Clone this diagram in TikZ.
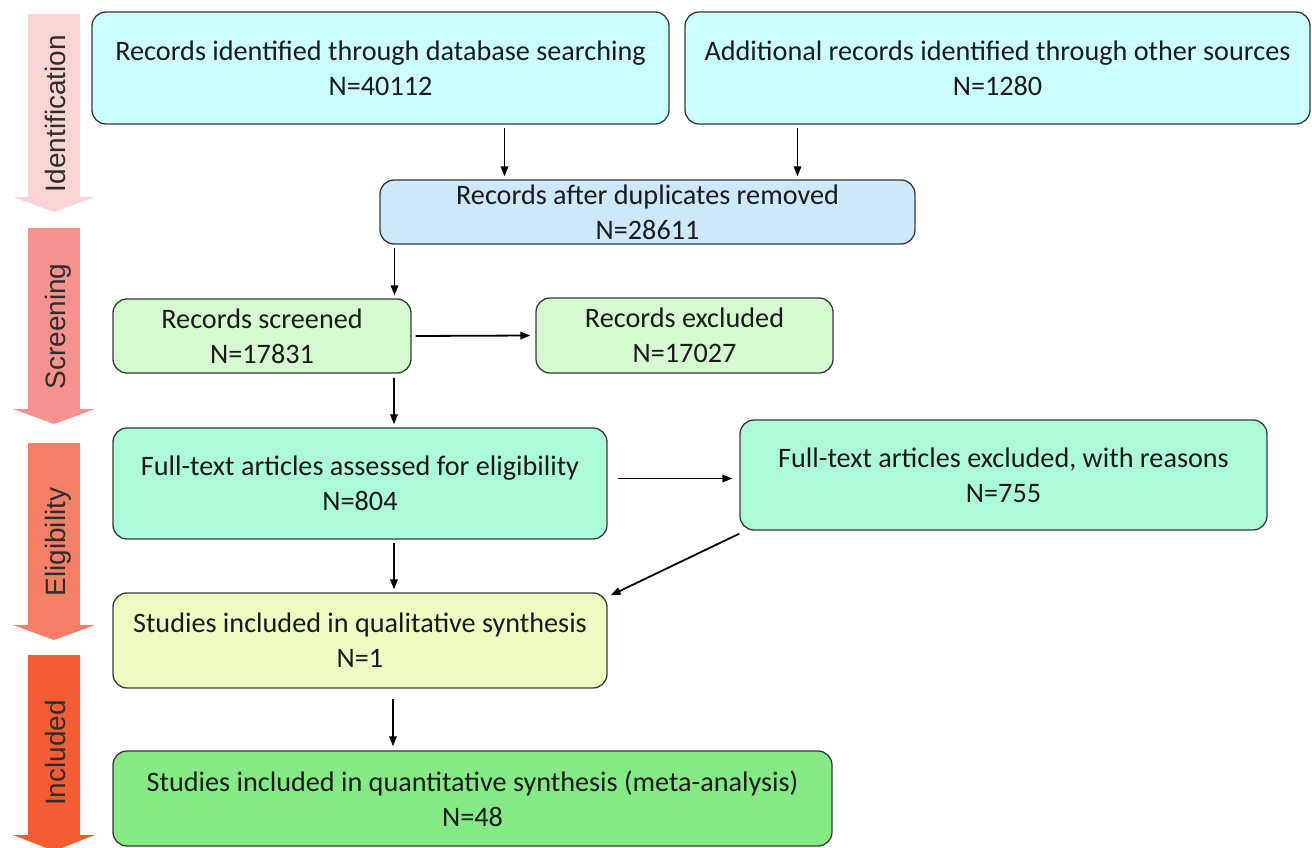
\documentclass[tikz,border=0pt]{standalone}
\usepackage{fontspec}
\setmainfont{Carlito}
\newfontfamily\phasefont{Liberation Sans}
\usepackage{xcolor}
\usetikzlibrary{arrows.meta}
\definecolor{boxline}{HTML}{383838}
\definecolor{boxtext}{HTML}{1A1A1A}
\definecolor{phasetext}{HTML}{2E2E2E}
\definecolor{idcyan}{HTML}{CCFFFF}
\definecolor{dupblue}{HTML}{CCE8FA}
\definecolor{scrgreen}{HTML}{D6FAD0}
\definecolor{fullmint}{HTML}{ADFAD9}
\definecolor{qualyellow}{HTML}{EDFCC2}
\definecolor{inclgreen}{HTML}{85E985}
\definecolor{phaseA}{HTML}{FAD4D4}
\definecolor{phaseB}{HTML}{F5928E}
\definecolor{phaseC}{HTML}{F47F67}
\definecolor{phaseD}{HTML}{F45D33}

\begin{document}
\begin{tikzpicture}[x=1pt,y=-1pt,
  box/.style={draw=boxline,line width=1.3pt,rounded corners=14pt,align=center,
    inner sep=0pt,text=boxtext,font=\fontsize{28.2}{35}\selectfont},
  arr/.style={-{Triangle[length=10pt,width=7.5pt]},line width=1.8pt}]
  \useasboundingbox (0,0) rectangle (1312,848);

  % phase arrows on the left
  \foreach \top/\neck/\tip/\col/\lab [count=\i] in
    {14/197/212/phaseA/Identification, 228/409/424/phaseB/Screening,
     443/625/640/phaseC/Eligibility, 655/835/851/phaseD/Included}{
    \path[fill=\col] (28,\top)--(80,\top)--(80,\neck)--(95,\neck)--(54,\tip)--(13,\neck)--(28,\neck)--cycle;
    \node[rotate=90,anchor=base,text=phasetext,font=\phasefont\fontsize{28}{28}\selectfont]
      (phase\i) at (65,{(\top+\neck)/2+8}) {\lab};
  }

  \node[box,fill=idcyan,minimum width=577pt,minimum height=112pt] (db) at (380.5,68)
    {Records identified through database searching\\N=40112};
  \node[box,fill=idcyan,minimum width=625pt,minimum height=112pt] (other) at (997.5,68)
    {Additional records identified through other sources\\N=1280};
  \node[box,fill=dupblue,minimum width=535pt,minimum height=64pt] (dup) at (647.5,212)
    {Records after duplicates removed\\N=28611};
  \node[box,fill=scrgreen,minimum width=298pt,minimum height=74pt] (scr) at (262,336)
    {Records screened\\N=17831};
  \node[box,fill=scrgreen,minimum width=297pt,minimum height=75pt] (excl) at (684.5,335.5)
    {Records excluded\\N=17027};
  \node[box,fill=fullmint,minimum width=494pt,minimum height=111pt] (full) at (360,483.5)
    {Full-text articles assessed for eligibility\\N=804};
  \node[box,fill=fullmint,minimum width=527pt,minimum height=110pt] (fexcl) at (1003.5,475)
    {Full-text articles excluded, with reasons\\N=755};
  \node[box,fill=qualyellow,minimum width=494pt,minimum height=95pt] (qual) at (360,640.5)
    {Studies included in qualitative synthesis\\N=1};
  \node[box,fill=inclgreen,minimum width=719pt,minimum height=95pt] (incl) at (472.5,798.5)
    {Studies included in quantitative synthesis (meta-analysis)\\N=48};

  \draw[arr,shorten >=3pt] ([xshift=124pt,yshift=-3pt]db.south) -- ([xshift=124pt]db.south |- dup.north);
  \draw[arr,shorten >=3pt] ([xshift=-200pt,yshift=-3pt]other.south) -- ([xshift=-200pt]other.south |- dup.north);
  \draw[arr,shorten >=3pt] ([xshift=-253pt,yshift=-3pt]dup.south) -- ([xshift=-253pt]dup.south |- scr.north);
  \draw[arr] ([xshift=4pt]scr.east) -- ([xshift=-5pt]excl.west);
  \draw[arr,shorten >=3pt] ([xshift=132pt,yshift=-4pt]scr.south) -- ([xshift=132pt]scr.south |- full.north);
  \draw[arr] ([xshift=10pt,yshift=5pt]full.east) -- ([xshift=-7pt,yshift=5pt]full.east -| fexcl.west);
  \draw[arr,shorten >=3pt] ([xshift=34pt,yshift=-3pt]full.south) -- ([xshift=34pt]full.south |- qual.north);
  \draw[arr] ([yshift=-3pt]fexcl.south west) -- ([xshift=3pt,yshift=-3pt]qual.north east);
  \draw[arr,shorten >=4pt] ([xshift=33pt,yshift=-10pt]qual.south) -- ([xshift=33pt]qual.south |- incl.north);
\end{tikzpicture}
\end{document}
